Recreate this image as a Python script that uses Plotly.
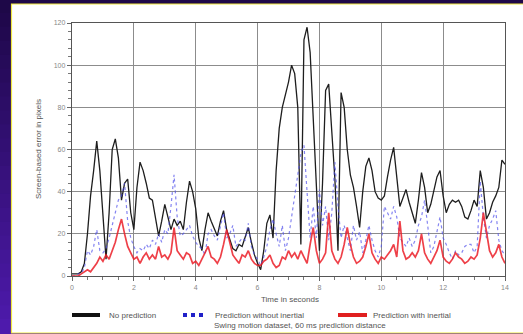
import plotly.graph_objects as go

# ---------------- data ----------------
TIME_STEP = 0.1  # seconds between samples
no_prediction = [
    1, 1, 1, 2, 6, 20, 38, 50, 64, 50,
    30, 8, 30, 60, 65, 56, 36, 44, 46, 30,
    22, 42, 54, 50, 44, 37, 36, 28, 19, 26,
    34, 28, 22, 27, 24, 26, 22, 35, 45, 40,
    32, 18, 12, 22, 30, 26, 22, 19, 26, 31,
    22, 18, 13, 12, 15, 14, 19, 23, 16, 10,
    6, 3, 12, 25, 29, 18, 50, 70, 80, 86,
    92, 100, 96, 80, 15, 112, 118, 106, 72, 40,
    12, 44, 88, 91, 70, 46, 12, 87, 80, 60,
    48, 42, 33, 23, 40, 52, 56, 50, 40, 37,
    36, 38, 47, 55, 61, 47, 33, 37, 41, 35,
    30, 25, 36, 49, 42, 30, 34, 40, 47, 50,
    38, 30, 34, 36, 35, 36, 33, 28, 27, 31,
    36, 33, 50, 42, 27, 30, 35, 38, 42, 55,
    53,
]
without_inertial = [
    0, 0, 1, 1, 4, 12, 10, 14, 22, 12,
    11, 13, 18, 24, 30, 36, 38, 44, 26, 18,
    14, 11, 13, 12, 15, 13, 17, 15, 20, 16,
    22, 20, 33, 48, 28, 19, 20, 22, 24, 19,
    16, 14, 13, 10, 20, 22, 19, 17, 24, 30,
    18, 20, 24, 14, 16, 18, 17, 25, 14, 10,
    8, 5, 9, 14, 22, 27, 20, 14, 24, 12,
    18, 28, 36, 46, 58, 62, 38, 18, 33, 18,
    41, 24, 33, 17, 30, 54, 33, 18, 24, 18,
    12, 24, 17, 21, 11, 17, 24, 17, 12, 9,
    14, 33, 30, 27, 33, 28, 18, 16, 14, 18,
    14, 17, 24, 28, 36, 24, 11, 14, 21, 28,
    18, 15, 11, 8, 12, 10, 11, 14, 15, 15,
    11, 14, 45, 28, 18, 24, 27, 31, 17, 12,
    10,
]
with_inertial = [
    0, 0, 0, 1, 2, 3, 2, 4, 6, 9,
    7, 10, 8, 12, 16, 22, 27, 20, 14, 11,
    8, 9, 6, 9, 11, 8, 10, 8, 14, 9,
    10, 8, 11, 23, 12, 10, 8, 11, 10, 6,
    7, 5, 8, 11, 14, 9, 8, 6, 9, 15,
    22, 16, 10, 8, 6, 10, 9, 12, 8, 6,
    5, 5, 7, 8, 10, 6, 4, 5, 9, 8,
    12, 9, 11, 8, 12, 9, 6, 15, 23, 12,
    6, 8, 11, 30, 12, 8, 6, 9, 15, 23,
    15, 9, 6, 7, 9, 14, 20, 11, 8, 6,
    9, 8, 10, 12, 15, 9, 26, 12, 8, 9,
    11, 9, 12, 20, 11, 8, 6, 9, 12, 17,
    9, 7, 6, 8, 11, 9, 8, 6, 7, 9,
    8, 10, 18, 30, 22, 12, 9, 11, 15, 9,
    6,
]
x_ticks = [0, 2, 4, 6, 8, 10, 12, 14]
y_ticks = [0, 20, 40, 60, 80, 100, 120]
series_names = ["No prediction", "Prediction without inertial", "Prediction with inertial"]
x_title = "Time in seconds"
y_title = "Screen-based error in pixels"
caption = "Swing motion dataset, 60 ms prediction distance"

time = [round(i * TIME_STEP, 2) for i in range(len(no_prediction))]

# ---------------- figure ----------------
W, H = 523, 334
L, R, T, B = 72, 18, 23, 58
PW, PH = W - L - R, H - T - B


def px(x):
    return (x - L) / PW


def py(y):
    return (H - B - y) / PH


fig = go.Figure()
fig.add_trace(go.Scatter(x=time, y=no_prediction, mode="lines", name=series_names[0],
                         line=dict(color="#1e1e1e", width=1.3), showlegend=False))
fig.add_trace(go.Scatter(x=time, y=without_inertial, mode="lines", name=series_names[1],
                         line=dict(color="rgba(80,80,235,0.7)", width=1.2, dash="dot"),
                         showlegend=False))
fig.add_trace(go.Scatter(x=time, y=with_inertial, mode="lines", name=series_names[2],
                         line=dict(color="rgba(235,30,40,0.85)", width=1.7), showlegend=False))

shapes = []
# purple gradient background bands
top = (30, 8, 72)
bot = (78, 26, 172)
n = 24
for i in range(n):
    f = i / (n - 1)
    c = tuple(int(top[k] + (bot[k] - top[k]) * f) for k in range(3))
    y0 = H * i / n - 1
    y1 = H * (i + 1) / n + 1
    shapes.append(dict(type="rect", xref="paper", yref="paper",
                       x0=px(-2), x1=px(W + 2), y0=py(y1), y1=py(y0),
                       fillcolor="rgb(%d,%d,%d)" % c, line=dict(width=0), layer="below"))
# white panel with yellow border
shapes.append(dict(type="rect", xref="paper", yref="paper",
                   x0=px(11.5), x1=px(W + 3), y0=py(333), y1=py(4),
                   fillcolor="white", line=dict(color="#f0e840", width=1.2), layer="below"))
# legend samples
ly = py(315)
shapes.append(dict(type="line", xref="paper", yref="paper", x0=px(72), x1=px(100), y0=ly, y1=ly,
                   line=dict(color="#111", width=4)))
shapes.append(dict(type="line", xref="paper", yref="paper", x0=px(183), x1=px(207), y0=ly, y1=ly,
                   line=dict(color="#2020c8", width=4, dash="dot")))
shapes.append(dict(type="line", xref="paper", yref="paper", x0=px(338), x1=px(367), y0=ly, y1=ly,
                   line=dict(color="#e02020", width=4)))

txt = dict(family="Liberation Sans, Arial, sans-serif", size=8, color="#555")
annotations = [
    dict(text=series_names[0], x=px(107), y=ly, xanchor="left", yanchor="middle"),
    dict(text=series_names[1], x=px(213), y=ly, xanchor="left", yanchor="middle"),
    dict(text=series_names[2], x=px(371), y=ly, xanchor="left", yanchor="middle"),
    dict(text=x_title, x=px(290), y=py(299), xanchor="center", yanchor="middle"),
    dict(text=caption, x=px(300), y=py(325), xanchor="center", yanchor="middle"),
    dict(text=y_title, x=px(38), y=py(149), xanchor="center", yanchor="middle", textangle=-90),
]
for a in annotations:
    a.update(xref="paper", yref="paper", showarrow=False, font=txt)

axis_common = dict(
    showgrid=True, gridcolor="#8c8c8c", gridwidth=1.2,
    showline=True, linecolor="#555", linewidth=1.4, mirror=True,
    ticks="outside", ticklen=4, tickcolor="#666", tickwidth=1,
    tickfont=dict(family="Liberation Sans, Arial, sans-serif", size=7, color="#888"),
    zeroline=False,
)
fig.update_xaxes(range=[0, 14], tickvals=x_ticks, ticktext=[str(v) for v in x_ticks],
                 minor=dict(dtick=0.5, ticks="outside", ticklen=3, tickcolor="#777", showgrid=False),
                 **axis_common)
fig.update_yaxes(range=[0, 120], tickvals=y_ticks, ticktext=[str(v) for v in y_ticks],
                 minor=dict(dtick=4, ticks="outside", ticklen=3, tickcolor="#777", showgrid=False),
                 **axis_common)

fig.update_layout(
    width=W, height=H, autosize=False,
    margin=dict(l=L, r=R, t=T, b=B, pad=0),
    paper_bgcolor="rgb(50,16,120)", plot_bgcolor="white",
    shapes=shapes, annotations=annotations, showlegend=False,
)
fig.write_html(
    "out.html",
    config={"displayModeBar": False},
    post_script="document.body.style.margin='0';document.body.style.overflow='hidden';",
)
